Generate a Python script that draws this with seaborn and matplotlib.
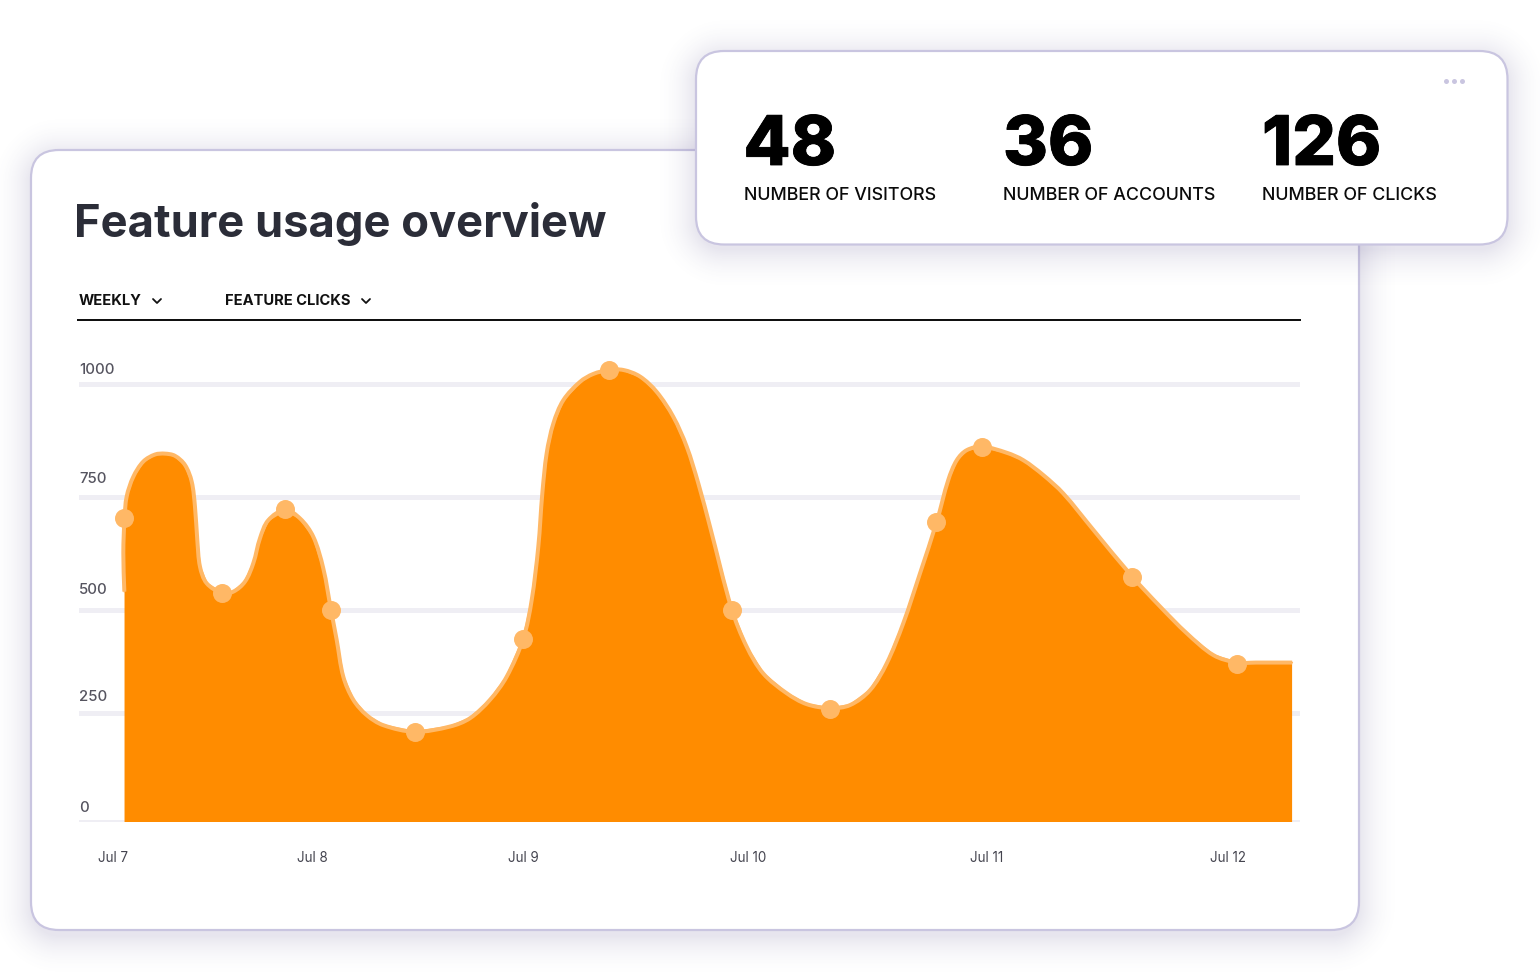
import matplotlib
matplotlib.use("Agg")
import matplotlib.pyplot as plt
from matplotlib.patches import FancyBboxPatch, PathPatch
from matplotlib.path import Path
from matplotlib.transforms import ScaledTranslation
import matplotlib.patheffects as pe
import numpy as np
import pandas as pd
import seaborn as sns

# ---- data (hours since Jul 7 00:00, clicks) ----
curve_hours = [1.22, 1.11, 1.24, 1.47, 2.18, 3.26, 4.52, 5.60, 6.67, 7.75, 8.47, 8.82, 9.07, 9.36, 10.08,
               11.73, 12.95, 14.21, 15.10, 15.82, 16.71, 18.51, 20.13, 21.56, 22.63, 23.46, 24.07, 24.78,
               25.86, 27.30, 29.09, 32.50, 36.27, 38.42, 40.57, 42.37, 44.16, 45.06, 45.77, 46.20, 46.67,
               47.39, 48.46, 50.26, 51.69, 53.38, 54.92, 56.72, 58.51, 60.30, 61.74, 62.99, 64.25, 66.58,
               68.20, 69.98, 72.50, 74.66, 77.17, 79.32, 81.47, 83.26, 85.05, 86.85, 88.65, 89.89, 90.80,
               91.88, 93.55, 96.18, 97.97, 100.12, 102.27, 105.50, 109.70, 112.68, 115.55, 118.42, 120.93, 123.0, 126.89]
curve_clicks = [526, 614, 694, 743, 788, 823, 839, 841, 836, 815, 777, 720, 644, 583, 545,
                523, 526, 549, 591, 648, 689, 712, 693, 651, 579, 484, 416, 332,
                279, 244, 221, 206, 218, 237, 279, 332, 419, 507, 629, 750, 842,
                910, 963, 1005, 1023, 1032, 1032, 1017, 982, 925, 857, 773, 674, 486,
                400, 339, 294, 269, 260, 267, 301, 362, 454, 568, 686, 781, 826,
                849, 857, 843, 826, 792, 750, 667, 560, 492, 431, 381, 364, 364, 364]
point_hours = [1.18, 11.73, 18.51, 23.46, 32.50, 44.12, 53.38, 66.62, 77.17, 88.62, 93.52, 109.67, 121.0]
point_clicks = [694, 523, 715, 484, 205, 418, 1032, 484, 258, 685, 856, 559, 361]

grid_values = [0, 249, 484, 742, 1000]
y_labels = ["0", "250", "500", "750", "1000"]
x_tick_hours = [0, 21.42, 44.12, 68.33, 94.05, 120]
x_labels = ["Jul 7", "Jul 8", "Jul 9", "Jul 10", "Jul 11", "Jul 12"]

kpi_values = ["48", "36", "126"]
kpi_names = ["NUMBER OF VISITORS", "NUMBER OF ACCOUNTS", "NUMBER OF CLICKS"]
title_text = "Feature usage overview"
filter_names = ["WEEKLY", "FEATURE CLICKS"]

# ---- style ----
sns.set_theme(style="white")
plt.rcParams["font.family"] = ["Inter", "DejaVu Sans"]
ORANGE, LIGHT = "#FF8C00", "#FFB866"
BORDER, GRID = "#C9C5E0", "#EFEEF4"
PX = 72 / 100  # one pixel in points

fig = plt.figure(figsize=(15.4, 9.8), dpi=100, facecolor="white")
W, H = 1540, 980

# ---- backdrop layer in picture units ----
bg = fig.add_axes([0, 0, 1, 1], zorder=0)


def card(x0, y0, x1, y1, radius, z):
    """Soft drop shadow image plus the rounded card on top of it."""
    yy, xx = np.mgrid[0:H, 0:W] + 0.5
    cx, cy = (x0 + x1) / 2, (y0 + y1) / 2 + 6
    qx = np.abs(xx - cx) - ((x1 - x0) / 2 - radius)
    qy = np.abs(yy - cy) - ((y1 - y0) / 2 - radius)
    dist = np.hypot(np.maximum(qx, 0), np.maximum(qy, 0)) + np.minimum(np.maximum(qx, qy), 0) - radius
    t = np.clip(dist / 44, 0, 1)
    rgba = np.zeros((H, W, 4))
    rgba[..., :3] = np.array([0x5F, 0x55, 0x90]) / 255
    rgba[..., 3] = 0.15 * (1 - t) ** 2.2
    bg.imshow(rgba, extent=(0, W, H, 0), aspect="auto", zorder=z, interpolation="nearest")
    bg.add_patch(FancyBboxPatch(
        (x0, y0), x1 - x0, y1 - y0, boxstyle=f"round,pad=0,rounding_size={radius}",
        fc="white", ec=BORDER, lw=2.2 * PX, zorder=z + 0.5))


card(31, 150, 1359, 930, 28, 1)
card(696, 51, 1507.5, 244.5, 28, 2)
bg.set_xlim(0, W)
bg.set_ylim(H, 0)
bg.axis("off")

bg.text(73.5, 237, title_text, fontsize=45.3 * PX, fontweight="bold", color="#2B2D38", va="baseline", zorder=5)

for x, name in zip([79, 225], filter_names):
    bg.text(x, 301, name, fontsize=14.7 * PX, fontweight="bold", color="#111111", va="center", zorder=5)
for cx in [157, 366]:
    bg.plot([cx - 4, cx, cx + 4], [299, 303, 299], color="#111111", lw=1.8 * PX,
            solid_capstyle="round", solid_joinstyle="round", zorder=5)
bg.plot([77, 1301], [320, 320], color="#111111", lw=2 * PX, solid_capstyle="butt", zorder=5)

for x, val, name in zip([743.5, 1003, 1262], kpi_values, kpi_names):
    bg.text(x, 165, val, fontsize=68.5 * PX, fontweight=800, color="black", va="baseline", zorder=5,
            path_effects=[pe.withStroke(linewidth=0.6, foreground="black")])
for x, name in zip([743.5, 1003, 1262.5], kpi_names):
    bg.text(x, 195, name, fontsize=17.85 * PX, fontweight="medium", color="#0A0A0A", va="center", zorder=5)
bg.scatter([1446, 1454, 1462], [81, 81, 81], s=(5 * PX) ** 2, color=BORDER, linewidths=0, zorder=5)

# ---- chart ----
ax = fig.add_axes([79 / W, 1 - 822 / H, (1300 - 79) / W, (822 - 340.2) / H], zorder=2)
ax.patch.set_alpha(0)
ax.set_xlim(-3.66, 127.74)
ax.set_ylim(0, 1100)
sns.despine(ax=ax, left=True, bottom=True)

for v in grid_values[1:]:
    ax.axhline(v, color=GRID, lw=5 * PX, zorder=1)
ax.axhline(0, color=GRID, lw=4 * PX, zorder=1)

curve = pd.DataFrame({"hours": curve_hours, "clicks": curve_clicks})
points = pd.DataFrame({"hours": point_hours, "clicks": point_clicks})

# the series itself, as read
sns.lineplot(data=curve, x="hours", y="clicks", estimator=None, sort=False, color=LIGHT,
             lw=2 * PX, ax=ax, zorder=3)


def smooth_commands(xs, ys):
    """Bezier control points that round the corners of the read series (the same points, a curved pen)."""
    sx, sy = 223 / 24, 0.438  # on-screen proportions of one hour and one click
    p = np.column_stack([np.asarray(xs) * sx, np.asarray(ys) * sy])
    tangent = np.zeros_like(p)
    tangent[1:-1] = p[2:] - p[:-2]
    tangent[0], tangent[-1] = p[1] - p[0], p[-1] - p[-2]
    tangent /= np.maximum(np.linalg.norm(tangent, axis=1, keepdims=True), 1e-9)
    verts = []
    for i in range(len(p) - 1):
        h = np.linalg.norm(p[i + 1] - p[i]) / 3
        verts += [p[i] + tangent[i] * h, p[i + 1] - tangent[i + 1] * h, p[i + 1]]
    verts = np.array(verts) / [sx, sy]
    return [tuple(v) for v in verts]


stroke_verts = smooth_commands(curve_hours, curve_clicks)
stroke = Path([(curve_hours[0], curve_clicks[0])] + stroke_verts,
              [Path.MOVETO] + [Path.CURVE4] * len(stroke_verts))
area_verts = smooth_commands(curve_hours[2:], curve_clicks[2:])
area = Path([(curve_hours[2], 0), (curve_hours[2], curve_clicks[2])] + area_verts
            + [(curve_hours[-1], 0), (curve_hours[2], 0)],
            [Path.MOVETO, Path.LINETO] + [Path.CURVE4] * len(area_verts) + [Path.LINETO, Path.CLOSEPOLY])
ax.add_patch(PathPatch(area, fc=ORANGE, ec="none", lw=0, zorder=2))
ax.add_patch(PathPatch(stroke, fc="none", ec=LIGHT, lw=4 * PX, zorder=3.5, capstyle="butt", joinstyle="round"))

sns.scatterplot(data=points, x="hours", y="clicks", color=LIGHT, s=(19 * PX) ** 2,
                linewidth=0, ax=ax, zorder=4, clip_on=False)
ax.set_xlabel("")
ax.set_ylabel("")

ax.set_xticks(x_tick_hours, labels=x_labels)
ax.set_yticks(grid_values, labels=y_labels)
ax.tick_params(axis="both", length=0)
ax.tick_params(axis="x", pad=29 * PX, labelsize=13.4 * PX, labelcolor="#44444F")
ax.tick_params(axis="y", pad=0, labelsize=15 * PX, labelcolor="#55545F")
lift_px = [15, 17, 22, 20, 15]
for lab, lift in zip(ax.get_yticklabels(), lift_px):
    lab.set_ha("left")
    lab.set_fontweight("medium")
    lab.set_transform(lab.get_transform() + ScaledTranslation(0, lift / 100, fig.dpi_scale_trans))

fig.savefig("out.png", dpi=100, facecolor="white")
